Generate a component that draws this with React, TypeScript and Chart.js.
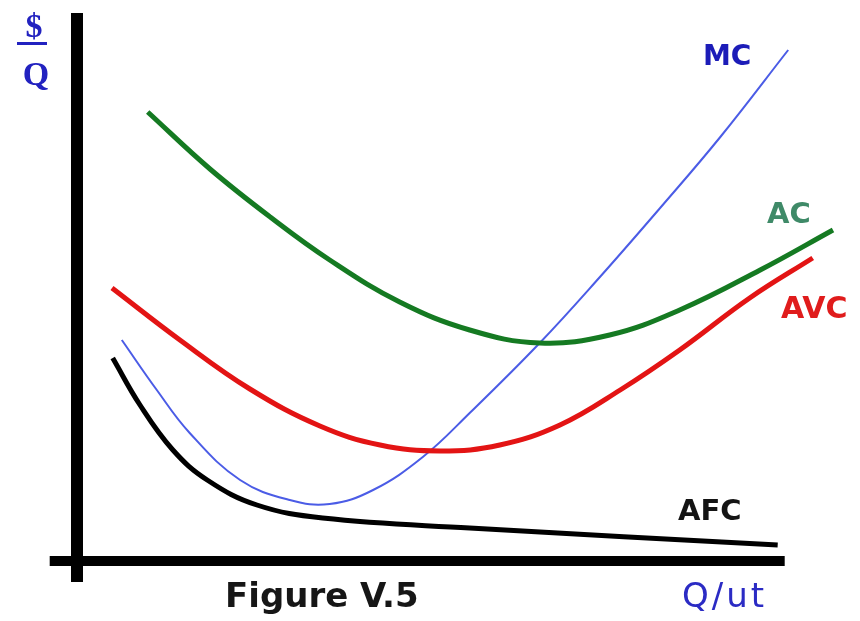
import React, { useEffect, useRef } from "react";
import { Chart, registerables } from "chart.js";

Chart.register(...registerables);

// Quantity (Q/ut) and cost ($/Q) readings for each curve
const acQ = [10.1, 19, 27.6, 36.1, 46.1, 56.1, 66.1, 76.1, 86.1, 97.6, 108];
const acCost = [89.8, 78.4, 68.8, 60.2, 51.8, 46.2, 43.6, 45.2, 50.2, 58.2, 66.2];

const avcQ = [5, 14.7, 24.7, 34.7, 43.3, 51.9, 60.4, 69, 77.6, 86.1, 96.1, 105.1];
const avcCost = [54.6, 44.2, 34.4, 27, 23.2, 22, 23.2, 27.2, 34.2, 42.2, 52.6, 60.6];

const mcQ = [6.4, 11.4, 16.1, 23.3, 30.4, 36.1, 42.3, 49.4, 56.1, 66.1, 74.7, 83.3, 91.9, 101.6];
const mcCost = [44.2, 34.2, 25.6, 16.2, 12.2, 11.4, 14.2, 20.8, 29.6, 43.6, 56.8, 70.6, 84.8, 102.2];

const afcQ = [5.1, 9, 13.7, 18.6, 25.7, 35.1, 56.1, 100.1];
const afcCost = [40.6, 31.2, 22.2, 16.2, 11.2, 8.6, 6.6, 3.2];

// Axis lines (drawn as data in the same units)
const xAxisQ = [-3.9, 101.1];
const xAxisCost = [0, 0];
const yAxisQ = [0, 0];
const yAxisCost = [-4.2, 109.6];

const curveLabels = ["MC", "AC", "AVC", "AFC"];
const figureTitle = "Figure V.5";
const xTitle = "Q/ut";
const yTitleTop = "$";
const yTitleBottom = "Q";

const W = 860;
const H = 621;
// scale ranges: Q=0 at px 77 (7 px/unit), $=0 at py 561 (5 px/unit)
const X_MIN = -11;
const X_MAX = X_MIN + W / 7;
const Y_MIN = -12;
const Y_MAX = Y_MIN + H / 5;

const pts = (xs: number[], ys: number[]) => xs.map((x, i) => ({ x, y: ys[i] }));

const textPlugin = {
  id: "texts",
  beforeDraw(chart: any) {
    const { ctx } = chart;
    ctx.save();
    ctx.fillStyle = "#ffffff";
    ctx.fillRect(0, 0, chart.width, chart.height);
    ctx.restore();
  },
  afterDraw(chart: any) {
    const { ctx } = chart;
    ctx.save();
    ctx.textBaseline = "alphabetic";
    ctx.textAlign = "left";

    // curve labels
    ctx.font = "bold 28px 'DejaVu Sans'";
    ctx.fillStyle = "#1c1cb8";
    ctx.fillText(curveLabels[0], 703, 65);
    ctx.fillStyle = "#3f8a68";
    ctx.font = "bold 29px 'DejaVu Sans'";
    ctx.fillText(curveLabels[1], 767, 223);
    ctx.fillStyle = "#e01c1c";
    ctx.font = "bold 30px 'DejaVu Sans'";
    ctx.fillText(curveLabels[2], 781, 318);
    ctx.fillStyle = "#141414";
    ctx.font = "bold 29px 'DejaVu Sans'";
    ctx.fillText(curveLabels[3], 678, 520);

    // figure title
    ctx.fillStyle = "#161616";
    ctx.font = "bold 34px 'DejaVu Sans'";
    ctx.fillText(figureTitle, 225, 607);

    // x title
    ctx.fillStyle = "#2b2bc4";
    ctx.font = "34px 'DejaVu Sans'";
    try { (ctx as any).letterSpacing = "3px"; } catch (e) {}
    ctx.fillText(xTitle, 682, 607);
    try { (ctx as any).letterSpacing = "0px"; } catch (e) {}

    // y title
    ctx.fillStyle = "#2222c0";
    ctx.font = "bold 34px 'Liberation Serif'";
    ctx.textAlign = "center";
    ctx.fillText(yTitleTop, 34, 37);
    ctx.fillRect(17, 42, 30, 3);
    ctx.fillText(yTitleBottom, 36, 85);
    ctx.restore();
  },
};

export default function App() {
  const ref = useRef<HTMLCanvasElement | null>(null);

  useEffect(() => {
    document.body.style.margin = "0";
    const canvas = ref.current;
    if (!canvas) return;
    const curve = (data: any, color: string, width: number) => ({
      data,
      borderColor: color,
      borderWidth: width,
      pointRadius: 0,
      fill: false,
      tension: 0.4,
      borderCapStyle: "butt" as const,
      borderJoinStyle: "round" as const,
    });
    const axis = (data: any, width: number) => ({
      data,
      borderColor: "#000000",
      borderWidth: width,
      pointRadius: 0,
      fill: false,
      tension: 0,
      borderCapStyle: "butt" as const,
    });
    const chart = new Chart(canvas, {
      type: "line",
      data: {
        datasets: [
          axis(pts(xAxisQ, xAxisCost), 10),
          axis(pts(yAxisQ, yAxisCost), 12),
          curve(pts(afcQ, afcCost), "#000000", 5),
          curve(pts(avcQ, avcCost), "#e31414", 5),
          curve(pts(acQ, acCost), "#157a22", 5),
          curve(pts(mcQ, mcCost), "#4b5ce6", 2),
        ],
      },
      options: {
        animation: false,
        responsive: false,
        maintainAspectRatio: false,
        devicePixelRatio: 1,
        layout: { padding: 0, autoPadding: false },
        plugins: { legend: { display: false }, tooltip: { enabled: false }, title: { display: false } },
        events: [],
        scales: {
          x: { type: "linear", min: X_MIN, max: X_MAX, display: false },
          y: { type: "linear", min: Y_MIN, max: Y_MAX, display: false },
        },
      },
      plugins: [textPlugin],
    });
    return () => chart.destroy();
  }, []);

  return (
    <div style={{ width: W, height: H }}>
      <canvas ref={ref} width={W} height={H} style={{ display: "block", width: W, height: H }} />
    </div>
  );
}
